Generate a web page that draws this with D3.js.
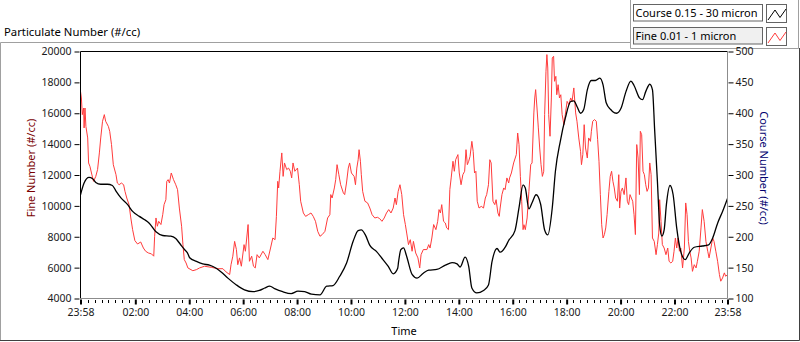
<!DOCTYPE html>
<html>
<head>
<meta charset="utf-8">
<script src="https://cdn.jsdelivr.net/npm/d3@7"></script>
<style>
  body { margin: 0; background: #fff; }
  svg { display: block; font-family: "Noto Sans", "Open Sans", sans-serif; }
</style>
</head>
<body>
<svg width="800" height="342"></svg>
<script>
// minutes after the 23:58 start, value
const courseData = [[0,268],[8,287],[19,296],[27,294],[34,288],[45,285],[60,285],[71,283],[79,274],[90,263],[105,252],[116,241],[131,233],[142,228],[153,222],[168,208],[183,202],[201,201],[212,197],[223,187],[232,179],[238,174],[243,166],[258,160],[272,156],[287,154],[302,149],[313,143],[328,133],[347,122],[365,114],[384,111],[398,113],[410,117],[421,120],[432,116],[450,111],[469,108],[484,112],[499,111],[514,107],[533,106],[548,120],[562,121],[577,136],[592,157],[607,193],[618,210],[625,211],[634,203],[644,186],[659,176],[670,166],[685,152],[696,140],[706,149],[708,160],[713,179],[719,182],[726,168],[738,139],[749,133],[763,141],[775,146],[793,147],[812,154],[827,158],[838,156],[845,151],[856,167],[864,152],[871,117],[882,109],[897,113],[908,122],[916,160],[927,181],[934,175],[946,184],[953,194],[967,210],[976,247],[985,284],[990,279],[998,245],[1005,255],[1014,268],[1024,253],[1033,211],[1040,203],[1050,247],[1057,306],[1068,355],[1079,392],[1091,419],[1098,420],[1105,411],[1113,400],[1120,406],[1128,438],[1137,453],[1146,453],[1156,457],[1163,446],[1170,417],[1180,406],[1184,403],[1193,400],[1203,408],[1214,435],[1225,452],[1232,445],[1244,425],[1251,422],[1258,435],[1267,447],[1273,438],[1278,371],[1284,290],[1289,219],[1294,201],[1299,211],[1304,252],[1312,283],[1319,268],[1327,214],[1336,176],[1346,163],[1355,174],[1366,183],[1384,185],[1398,187],[1407,198],[1418,222],[1429,241],[1440,262]];

const fineData = [[0,17420],[2,16990],[4,15910],[7,16340],[8,15050],[10,16340],[12,15150],[16,14400],[18,12780],[21,12560],[25,12060],[29,11590],[34,11910],[38,12350],[42,13430],[45,14400],[49,15480],[53,15910],[56,15480],[62,15150],[65,14830],[69,13970],[73,12670],[79,12020],[82,11480],[86,11370],[91,11480],[96,11370],[99,10940],[103,10510],[108,10080],[112,9216],[116,8460],[121,7750],[127,7530],[134,7660],[140,7270],[145,7060],[151,6950],[158,6890],[163,6740],[165,8030],[168,9216],[171,8680],[174,9000],[179,8790],[183,9430],[186,10080],[190,10400],[192,11590],[195,11700],[198,11480],[202,12130],[207,11700],[212,11370],[216,11050],[220,9860],[225,8680],[228,7490],[231,6520],[235,6300],[239,5980],[250,5800],[258,5870],[265,5980],[276,6090],[291,6020],[306,5930],[317,5930],[324,5720],[332,5550],[335,6190],[339,6740],[343,7700],[347,7170],[350,6190],[354,6630],[358,6090],[364,7490],[367,7060],[373,8790],[376,6410],[381,6740],[385,6090],[389,5980],[393,6840],[398,6630],[406,7060],[411,6840],[417,6520],[423,7270],[428,7920],[433,7810],[436,9320],[439,11590],[441,11160],[444,12240],[448,13430],[451,11910],[454,12780],[459,12350],[463,12450],[467,12240],[470,11810],[473,12780],[477,12240],[483,12450],[487,11370],[490,10300],[496,9540],[501,9320],[507,9430],[513,9540],[518,9320],[523,9000],[528,8350],[533,8030],[538,8140],[544,8350],[550,9216],[555,9430],[557,10730],[560,10510],[565,11160],[568,11700],[571,12670],[575,12020],[579,11370],[585,10840],[588,10730],[592,11480],[596,12450],[599,12780],[603,12130],[609,11910],[612,11370],[615,12450],[618,12990],[620,13640],[623,12890],[625,12020],[628,10940],[633,10300],[639,10190],[644,9860],[649,9430],[655,9216],[661,9260],[666,9170],[671,9000],[676,9216],[681,9540],[686,9760],[691,9540],[696,9860],[700,10510],[703,10080],[707,10940],[711,11370],[715,10730],[719,9430],[723,8790],[726,8240],[730,7490],[734,7810],[738,7060],[741,7700],[746,6950],[751,6630],[755,5980],[758,6840],[763,7170],[771,7170],[775,7490],[778,7270],[782,7920],[786,8790],[791,8460],[795,9000],[798,9760],[801,9540],[804,10080],[808,9000],[812,8890],[815,8570],[819,8460],[822,11050],[825,11810],[829,12890],[832,12240],[835,12990],[840,13320],[843,12130],[847,11370],[851,12020],[855,12240],[858,13640],[861,12670],[864,12890],[867,13210],[871,14180],[874,13530],[877,12130],[880,12240],[883,10300],[887,9860],[892,9970],[897,9860],[901,10510],[904,10730],[908,11370],[911,12990],[914,12780],[918,10300],[922,10080],[925,10400],[929,9540],[932,9320],[934,9860],[938,10730],[942,11160],[945,11050],[949,11810],[953,11480],[955,11810],[959,12130],[964,12780],[970,13320],[973,14720],[976,13970],[979,11910],[982,10300],[985,8460],[987,8780],[990,8460],[994,9216],[998,10940],[1002,12670],[1005,12780],[1009,16020],[1011,16990],[1013,17530],[1016,16340],[1019,15050],[1022,13750],[1025,12670],[1028,11910],[1031,12240],[1033,15910],[1036,18720],[1038,19800],[1040,18930],[1042,15910],[1045,14510],[1048,16990],[1050,19580],[1053,19690],[1055,18070],[1058,18390],[1060,17200],[1063,17850],[1066,16990],[1069,17200],[1072,15910],[1076,15260],[1079,15910],[1083,16770],[1087,16560],[1091,16990],[1094,16770],[1098,17640],[1102,16020],[1105,15480],[1109,14400],[1113,13530],[1115,12670],[1118,13320],[1121,15260],[1124,13750],[1128,13100],[1131,14400],[1135,14180],[1137,14830],[1140,15480],[1144,15590],[1148,15480],[1151,14290],[1154,12890],[1157,10730],[1160,8780],[1163,7920],[1166,8140],[1169,8570],[1172,9430],[1176,10940],[1179,11910],[1182,12240],[1185,11590],[1188,11160],[1191,10510],[1195,10300],[1198,12020],[1200,9860],[1203,10940],[1206,11160],[1210,10730],[1214,11810],[1217,10300],[1220,10080],[1223,10730],[1226,10510],[1229,10300],[1232,9430],[1235,8140],[1238,13970],[1241,13100],[1244,10730],[1246,14830],[1249,14610],[1252,12240],[1255,12020],[1258,11370],[1261,10940],[1264,11160],[1267,12780],[1270,12020],[1273,7920],[1277,7700],[1281,6840],[1284,7490],[1287,8240],[1289,10400],[1292,9000],[1295,7490],[1299,7270],[1303,6840],[1307,7270],[1310,6410],[1314,6300],[1318,6410],[1321,7060],[1324,7920],[1327,7270],[1330,7920],[1333,7060],[1336,7270],[1340,5980],[1344,7270],[1347,10190],[1350,9430],[1353,7700],[1356,7060],[1359,6630],[1362,5760],[1366,6190],[1370,5980],[1373,6410],[1377,7060],[1381,8570],[1384,9760],[1388,9000],[1392,7700],[1396,7060],[1399,6630],[1403,7270],[1407,7920],[1410,7700],[1414,7060],[1418,6410],[1422,5550],[1425,5120],[1429,5330],[1433,5660],[1436,5440],[1440,5550]];

const fineTicks = [4000, 6000, 8000, 10000, 12000, 14000, 16000, 18000, 20000];
const courseTicks = [100, 150, 200, 250, 300, 350, 400, 450, 500];
const legendNames = ["Course 0.15 - 30 micron", "Fine 0.01 - 1 micron"];
const lineColors = ["#000000", "#ff3b3b"];

const svg = d3.select("svg");
const start = new Date(2020, 0, 1, 23, 58);
const end = new Date(2020, 0, 2, 23, 58);
const toDate = m => new Date(start.getTime() + m * 60000);

const plot = {left: 80.5, right: 727.5, top: 51.5, bottom: 298.5};
const tickFont = 10.5;

const x = d3.scaleTime().domain([start, end]).range([plot.left, plot.right]);
const yFine = d3.scaleLinear().domain([4000, 20000]).range([plot.bottom, plot.top]);
const yCourse = d3.scaleLinear().domain([100, 500]).range([plot.bottom, plot.top]);

// outer frame
svg.append("path").attr("d", "M0.5,341 V42.5 H630").attr("fill", "none").attr("stroke", "#a0a0a0");
svg.append("path").attr("d", "M0,340.5 H799.5 V48").attr("fill", "none").attr("stroke", "#404040");
svg.append("text").attr("x", 4).attr("y", 36).attr("font-size", 11.3).attr("fill", "#000")
    .text("Particulate Number (#/cc)");

// legend panel
svg.append("path").attr("d", "M630.5,0 V48.5 H798.5 V0").attr("fill", "none").attr("stroke", "#a0a0a0");
legendNames.forEach(function(name, i) {
    const y0 = 4.5 + i * 23;
    svg.append("rect").attr("x", 633.5).attr("y", y0).attr("width", 129).attr("height", 16.5)
        .attr("fill", i ? "#f0f0f0" : "#fff").attr("stroke", "#646464");
    svg.append("text").attr("x", 635.5).attr("y", y0 + 12.5).attr("font-size", 11).text(name);
    svg.append("rect").attr("x", 766.5).attr("y", y0).attr("width", 20).attr("height", 18)
        .attr("fill", "#fff").attr("stroke", "#646464");
    const pts = [[768, y0 + 15.5], [775, y0 + 5.5], [780, y0 + 13], [786, y0 + 4.5]];
    svg.append("path").attr("d", d3.line()(pts)).attr("fill", "none")
        .attr("stroke", lineColors[i]).attr("stroke-width", 1);
});

// plot frame
svg.append("path").attr("d", `M${plot.left},${plot.bottom} V${plot.top} H${plot.right}`)
    .attr("fill", "none").attr("stroke", "#000");
svg.append("path").attr("d", `M${plot.left},${plot.bottom} H${plot.right} V${plot.top}`)
    .attr("fill", "none").attr("stroke", "#8c8c8c");

// left axis
const gl = svg.append("g").attr("transform", `translate(${plot.left - 1},0)`)
    .call(d3.axisLeft(yFine).tickValues(fineTicks).tickFormat(d3.format("d")).tickSize(5).tickPadding(3));
gl.select(".domain").remove();
gl.selectAll("text").attr("font-size", tickFont).attr("font-family", "Noto Sans").attr("fill", "#1a1a1a");

// right axis
const gr = svg.append("g").attr("transform", `translate(${plot.right + 1},0)`)
    .call(d3.axisRight(yCourse).tickValues(courseTicks).tickSize(5).tickPadding(2));
gr.select(".domain").remove();
gr.selectAll("text").attr("font-size", tickFont).attr("font-family", "Noto Sans").attr("fill", "#1a1a1a");

// bottom axis
const majors = [start].concat(d3.timeHour.every(2).range(new Date(start.getTime() + 3600000), end), [end]);
const minors = d3.timeMinute.every(15).range(new Date(start.getTime() + 5 * 60000), new Date(end.getTime() - 3 * 60000))
    .filter(d => d.getMinutes() !== 0 || d.getHours() % 2 !== 0);
svg.append("g").selectAll("line").data(minors).enter().append("line")
    .attr("x1", d => Math.round(x(d)) + 0.5).attr("x2", d => Math.round(x(d)) + 0.5)
    .attr("y1", 300).attr("y2", 303).attr("stroke", "#000");
const gb = svg.append("g").attr("transform", `translate(0,${plot.bottom + 1})`)
    .call(d3.axisBottom(x).tickValues(majors).tickFormat(d3.timeFormat("%H:%M")).tickSize(5).tickPadding(4));
gb.select(".domain").remove();
gb.selectAll(".tick line").attr("stroke-width", 2);
gb.selectAll("text").attr("font-size", tickFont).attr("font-family", "Noto Sans").attr("fill", "#1a1a1a");

// axis titles
svg.append("text").attr("transform", "translate(35,168) rotate(-90)").attr("text-anchor", "middle")
    .attr("font-size", 11).attr("fill", "#7a0000").text("Fine Number (#/cc)");
svg.append("text").attr("transform", "translate(760,168) rotate(90)").attr("text-anchor", "middle")
    .attr("font-size", 11).attr("fill", "#00006e").text("Course Number (#/cc)");
svg.append("text").attr("x", (plot.left + plot.right) / 2).attr("y", 335).attr("text-anchor", "middle")
    .attr("font-size", 11).text("Time");

// series
svg.append("clipPath").attr("id", "clip").append("rect")
    .attr("x", plot.left + 0.5).attr("y", plot.top + 0.5)
    .attr("width", plot.right - plot.left - 1).attr("height", plot.bottom - plot.top - 1);
const lines = svg.append("g").attr("clip-path", "url(#clip)");

lines.append("path").datum(fineData)
    .attr("d", d3.line().x(d => x(toDate(d[0]))).y(d => yFine(d[1])))
    .attr("fill", "none").attr("stroke", lineColors[1]).attr("stroke-width", 1);

lines.append("path").datum(courseData)
    .attr("d", d3.line().curve(d3.curveMonotoneX).x(d => x(toDate(d[0]))).y(d => yCourse(d[1])))
    .attr("fill", "none").attr("stroke", lineColors[0]).attr("stroke-width", 1.3);
</script>
</body>
</html>
